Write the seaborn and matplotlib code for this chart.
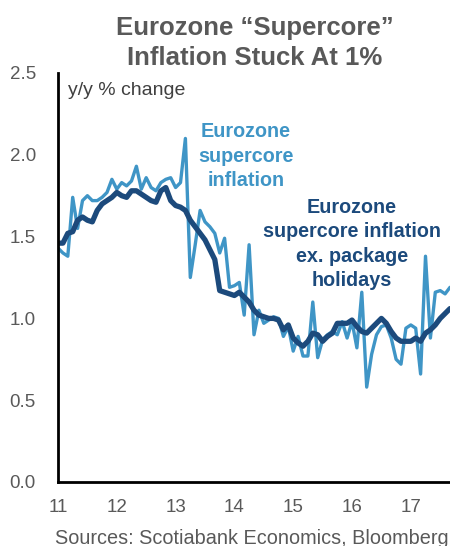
import numpy as np
import pandas as pd
import matplotlib
matplotlib.use('agg')
import matplotlib.pyplot as plt
import seaborn as sns

### data (monthly, Jan 2011 - Sep 2017) ###
start_year = 11
supercore = [1.43, 1.40, 1.38, 1.74, 1.55, 1.72, 1.75, 1.72, 1.72, 1.74,
             1.77, 1.85, 1.79, 1.83, 1.81, 1.84, 1.93, 1.79, 1.86, 1.80,
             1.78, 1.83, 1.85, 1.86, 1.80, 1.83, 2.10, 1.25, 1.45, 1.66,
             1.59, 1.56, 1.52, 1.40, 1.49, 1.19, 1.20, 1.22, 1.02, 1.45,
             0.90, 1.05, 0.97, 0.99, 1.01, 1.00, 0.89, 0.95, 0.80, 0.89,
             0.77, 0.77, 1.10, 0.76, 0.87, 0.90, 0.92, 0.90, 0.98, 0.88,
             0.98, 0.82, 1.16, 0.58, 0.78, 0.90, 0.95, 0.96, 0.88, 0.75,
             0.72, 0.94, 0.96, 0.94, 0.66, 1.38, 0.88, 1.16, 1.17, 1.15,
             1.19]
supercore_ex_holidays = [1.46, 1.46, 1.52, 1.53, 1.60, 1.62, 1.60, 1.59, 1.66, 1.70,
                         1.72, 1.74, 1.77, 1.75, 1.74, 1.78, 1.78, 1.76, 1.74, 1.72,
                         1.71, 1.78, 1.80, 1.72, 1.69, 1.68, 1.66, 1.60, 1.56, 1.52,
                         1.48, 1.42, 1.36, 1.17, 1.16, 1.15, 1.14, 1.16, 1.13, 1.10,
                         1.05, 1.02, 1.01, 1.00, 1.00, 0.99, 0.93, 0.96, 0.88, 0.85,
                         0.83, 0.86, 0.91, 0.90, 0.86, 0.89, 0.91, 0.97, 0.97, 0.97,
                         0.99, 0.95, 0.92, 0.91, 0.94, 0.97, 1.00, 0.97, 0.92, 0.88,
                         0.86, 0.86, 0.86, 0.88, 0.86, 0.91, 0.93, 0.96, 1.00, 1.03,
                         1.06]
year_ticks = [11, 12, 13, 14, 15, 16, 17]
y_ticks = [0.0, 0.5, 1.0, 1.5, 2.0, 2.5]

light_blue = "#3F95C6"
navy = "#1C4A7C"
grey = "#595959"

t = start_year + np.arange(len(supercore)) / 12
df = pd.DataFrame({"t": t, "supercore": supercore, "ex_holidays": supercore_ex_holidays})

sns.set_style("white")
plt.rcParams['font.family'] = ['Liberation Sans', 'DejaVu Sans']

fig = plt.figure(figsize=(4.5, 5.46), dpi=100)
ax = fig.add_axes([58 / 450, 64 / 546, 392 / 450, 409 / 546])

sns.lineplot(data=df, x="t", y="supercore", color=light_blue, linewidth=2.4, ax=ax)
sns.lineplot(data=df, x="t", y="ex_holidays", color=navy, linewidth=3.8, ax=ax)

ax.set_xlim(start_year, t[-1])
ax.set_ylim(0, 2.5)
ax.set_xticks(year_ticks)
ax.set_xticklabels([str(y) for y in year_ticks])
ax.set_yticks(y_ticks)
ax.set_yticklabels([f"{v:.1f}" for v in y_ticks])
ax.set_xlabel("")
ax.set_ylabel("")

sns.despine(ax=ax)
for side in ["left", "bottom"]:
    ax.spines[side].set_color("black")
    ax.spines[side].set_linewidth(2.0)
ax.tick_params(axis="both", direction="in", length=4, width=1.5, color="black",
               labelsize=13.5, labelcolor=grey)
ax.tick_params(axis="x", pad=12)
ax.tick_params(axis="y", pad=16)

ax.text(0.025, 0.956, "y/y % change", transform=ax.transAxes, fontsize=14,
        color="#404040", va="center", ha="left")

# series labels
fig.text(246 / 450, 1 - 156 / 546, "Eurozone\nsupercore\ninflation",
         fontsize=14.2, fontweight="bold", color=light_blue, ha="center", va="center",
         linespacing=1.35)
fig.text(352 / 450, 1 - 244 / 546, "Eurozone\nsupercore inflation\nex. package\nholidays",
         fontsize=14.2, fontweight="bold", color=navy, ha="center", va="center",
         linespacing=1.35)

fig.text(255 / 450, 1 - 43 / 546, "Eurozone \u201cSupercore\u201d\nInflation Stuck At 1%",
         fontsize=18.5, fontweight="bold", color=grey, ha="center", va="center",
         linespacing=1.3)

fig.text(55 / 450, 1 - 538 / 546, "Sources: Scotiabank Economics, Bloomberg",
         fontsize=14.3, color=grey, ha="left", va="center")

plt.savefig("out.png", dpi=100)
